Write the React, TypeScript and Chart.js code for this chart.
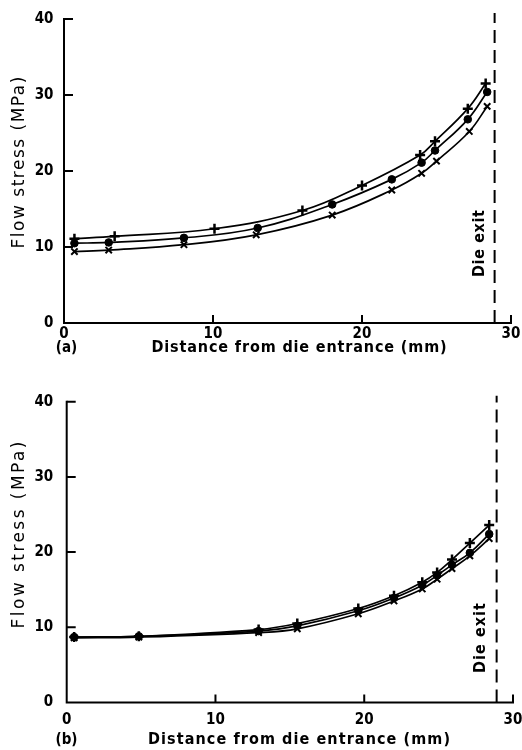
import React, { useEffect, useRef } from "react";
import { Chart, registerables } from "chart.js";

Chart.register(...registerables);

// ---------- data ----------
const X_TICKS = [0, 10, 20, 30];
const Y_TICKS = [0, 10, 20, 30, 40];
const DIE_EXIT_X = 28.9;
const DIE_EXIT_Y = [0, 40.8];

const A_PLUS_X = [0.7, 3.4, 10.1, 16.0, 20.0, 23.9, 24.9, 27.1, 28.3];
const A_PLUS_Y = [11.1, 11.4, 12.4, 14.8, 18.1, 22.1, 23.9, 28.2, 31.5];
const A_DOT_X = [0.7, 3.0, 8.05, 13.0, 18.0, 22.0, 24.0, 24.9, 27.1, 28.4];
const A_DOT_Y = [10.5, 10.6, 11.2, 12.5, 15.6, 18.9, 21.1, 22.7, 26.8, 30.4];
const A_CROSS_X = [0.7, 3.0, 8.05, 12.9, 18.0, 22.0, 24.0, 25.0, 27.2, 28.4];
const A_CROSS_Y = [9.4, 9.6, 10.3, 11.6, 14.2, 17.5, 19.7, 21.3, 25.2, 28.5];

const B_X = [0.5, 4.85, 12.9, 15.5, 19.6, 22.0, 23.9, 24.9, 25.9, 27.1, 28.4];
const B_PLUS_Y = [8.7, 8.8, 9.7, 10.5, 12.5, 14.2, 16.0, 17.3, 19.0, 21.2, 23.6];
const B_DOT_Y = [8.7, 8.8, 9.5, 10.2, 12.2, 13.9, 15.6, 16.9, 18.3, 19.9, 22.4];
const B_CROSS_Y = [8.6, 8.7, 9.3, 9.8, 11.8, 13.5, 15.1, 16.4, 17.8, 19.5, 21.8];

const Y_TITLE = "Flow stress (MPa)";
const X_TITLE = "Distance from die entrance (mm)";
const DIE_LABEL = "Die exit";

// ---------- layout / styles ----------
const W = 522;
const H = 375;
const TICK_FONT = 'bold 15px "Liberation Sans Narrow", "DejaVu Sans Condensed", sans-serif';
const TITLE_FONT = 'bold 16px "DejaVu Sans Condensed", sans-serif';
const YTITLE_FONT = '17px "DejaVu Sans", sans-serif';

type Panel = {
  tag: string;
  padding: { left: number; top: number; right: number; bottom: number };
  yTickGap: number;
  xTickDy: number;
  tagPos: [number, number];
  xTitle: [number, number, number];
  yTitle: [number, number, number];
  dieText: [number, number, number];
  series: { x: number[]; y: number[] }[];
};

const PANELS: Panel[] = [
  {
    tag: "(a)",
    padding: { left: 64, top: 19, right: 11, bottom: 52 },
    yTickGap: 10.5,
    xTickDy: 11,
    tagPos: [66.5, 25],
    xTitle: [299, 25, 295],
    yTitle: [19.5, 162.5, 172],
    dieText: [480, 243.5, 67],
    series: [
      { x: A_PLUS_X, y: A_PLUS_Y },
      { x: A_DOT_X, y: A_DOT_Y },
      { x: A_CROSS_X, y: A_CROSS_Y },
    ],
  },
  {
    tag: "(b)",
    padding: { left: 66.7, top: 26.7, right: 9, bottom: 47.5 },
    yTickGap: 13.5,
    xTickDy: 17.5,
    tagPos: [66.5, 37.5],
    xTitle: [299, 37.5, 302],
    yTitle: [19.5, 160, 187],
    dieText: [481, 263, 70],
    series: [
      { x: B_X, y: B_PLUS_Y },
      { x: B_X, y: B_DOT_Y },
      { x: B_X, y: B_CROSS_Y },
    ],
  },
];

function fitText(
  ctx: CanvasRenderingContext2D,
  text: string,
  cx: number,
  cy: number,
  target: number,
  rotate: boolean
) {
  ctx.save();
  ctx.translate(cx, cy);
  if (rotate) ctx.rotate(-Math.PI / 2);
  (ctx as any).letterSpacing = "0px";
  const w = ctx.measureText(text).width;
  const ls = (target - w) / Math.max(1, text.length - 1);
  (ctx as any).letterSpacing = ls.toFixed(2) + "px";
  ctx.textAlign = "left";
  ctx.textBaseline = "middle";
  ctx.fillText(text, -target / 2, 0);
  ctx.restore();
}

const framePlugin = {
  id: "paperFrame",
  afterDraw(chart: any) {
    const p: Panel = chart.options.plugins.paperFrame.panel;
    const { ctx } = chart;
    const xs = chart.scales.x;
    const ys = chart.scales.y;
    const x0 = xs.getPixelForValue(X_TICKS[0]);
    const xEnd = xs.getPixelForValue(X_TICKS[X_TICKS.length - 1]);
    const y0 = ys.getPixelForValue(Y_TICKS[0]);
    const yEnd = ys.getPixelForValue(Y_TICKS[Y_TICKS.length - 1]);
    ctx.save();
    ctx.strokeStyle = "#000";
    ctx.fillStyle = "#000";
    ctx.lineWidth = 2;
    ctx.lineCap = "square";
    ctx.beginPath();
    ctx.moveTo(x0, yEnd);
    ctx.lineTo(x0, y0);
    ctx.lineTo(xEnd, y0);
    ctx.stroke();
    ctx.lineCap = "butt";
    ctx.beginPath();
    Y_TICKS.forEach((v) => {
      if (v === Y_TICKS[0]) return;
      const py = ys.getPixelForValue(v);
      ctx.moveTo(x0, py);
      ctx.lineTo(x0 + 9, py);
    });
    X_TICKS.forEach((v) => {
      if (v === X_TICKS[0]) return;
      const px = xs.getPixelForValue(v);
      ctx.moveTo(px, y0);
      ctx.lineTo(px, y0 - 8);
    });
    ctx.stroke();

    ctx.font = TICK_FONT;
    ctx.textBaseline = "middle";
    ctx.textAlign = "right";
    Y_TICKS.forEach((v) => {
      ctx.fillText(String(v), x0 - p.yTickGap, ys.getPixelForValue(v));
    });
    ctx.textAlign = "center";
    X_TICKS.forEach((v) => {
      ctx.fillText(String(v), xs.getPixelForValue(v), y0 + p.xTickDy);
    });
    ctx.fillText(p.tag, p.tagPos[0], y0 + p.tagPos[1]);

    ctx.font = TITLE_FONT;
    fitText(ctx, X_TITLE, p.xTitle[0], y0 + p.xTitle[1], p.xTitle[2], false);
    fitText(ctx, DIE_LABEL, p.dieText[0], p.dieText[1], p.dieText[2], true);
    ctx.font = YTITLE_FONT;
    fitText(ctx, Y_TITLE, p.yTitle[0], p.yTitle[1], p.yTitle[2], true);
    ctx.restore();
  },
};

const STYLES = [
  { pointStyle: "cross", pointRadius: 5, pointBorderWidth: 2.5 },
  { pointStyle: "circle", pointRadius: 3.8, pointBorderWidth: 1 },
  { pointStyle: "crossRot", pointRadius: 4.5, pointBorderWidth: 2 },
];

function Panel({ panel }: { panel: Panel }) {
  const ref = useRef<HTMLCanvasElement | null>(null);
  useEffect(() => {
    if (!ref.current) return;
    const datasets: any[] = panel.series.map((s, i) => ({
      data: s.x.map((x, j) => ({ x, y: s.y[j] })),
      showLine: true,
      borderColor: "#000",
      backgroundColor: "#000",
      borderWidth: 1.7,
      tension: 0.4,
      pointBackgroundColor: "#000",
      pointBorderColor: "#000",
      clip: false,
      ...STYLES[i],
    }));
    datasets.push({
      data: DIE_EXIT_Y.map((y) => ({ x: DIE_EXIT_X, y })),
      showLine: true,
      borderColor: "#000",
      borderWidth: 2,
      borderDash: [13, 7],
      pointRadius: 0,
      clip: false,
    });
    const chart = new Chart(ref.current, {
      type: "scatter",
      data: { datasets },
      plugins: [framePlugin],
      options: {
        responsive: false,
        animation: false,
        events: [],
        layout: { padding: panel.padding },
        plugins: {
          legend: { display: false },
          tooltip: { enabled: false },
          paperFrame: { panel },
        } as any,
        scales: {
          x: { type: "linear", min: X_TICKS[0], max: X_TICKS[X_TICKS.length - 1], display: false },
          y: { type: "linear", min: Y_TICKS[0], max: Y_TICKS[Y_TICKS.length - 1], display: false },
        },
      },
    });
    return () => chart.destroy();
  }, [panel]);
  return <canvas ref={ref} width={W} height={H} style={{ display: "block", width: W, height: H }} />;
}

export default function App() {
  return (
    <div style={{ position: "absolute", left: 0, top: 0, width: W, height: 750, background: "#fff" }}>
      {PANELS.map((p, i) => (
        <Panel key={i} panel={p} />
      ))}
    </div>
  );
}
